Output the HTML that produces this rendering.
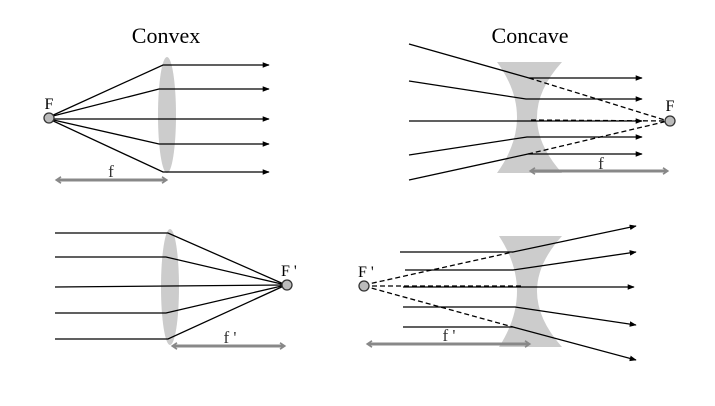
<!DOCTYPE html>
<html><head><meta charset="utf-8"><style>
html,body{margin:0;padding:0;background:#fff;}
svg{display:block;font-family:"Liberation Serif",serif;}
</style></head><body>
<svg width="715" height="406" viewBox="0 0 715 406">
<defs>
<marker id="ah" viewBox="0 0 10 10" refX="9" refY="5" markerWidth="7" markerHeight="7" orient="auto-start-reverse" markerUnits="userSpaceOnUse"><path d="M0,1 L10,5 L0,9 z" fill="#000"/></marker>
<marker id="gh" viewBox="0 0 10 10" refX="6" refY="5" markerWidth="8" markerHeight="8" orient="auto-start-reverse" markerUnits="userSpaceOnUse"><path d="M1,1 L7,5 L1,9" fill="none" stroke="#888" stroke-width="2"/></marker>
</defs>
<g stroke="#000" stroke-width="1.3" fill="none">
<g>
<ellipse cx="167" cy="115" rx="9" ry="58" fill="#ccc" stroke="none"/>
<path d="M49,117 L163,65 L269,65" marker-end="url(#ah)"/>
<path d="M49,117 L159,89 L269,89" marker-end="url(#ah)"/>
<path d="M49,119 L269,119" marker-end="url(#ah)"/>
<path d="M49,119 L159,144 L269,144" marker-end="url(#ah)"/>
<path d="M49,119 L163,172 L269,172" marker-end="url(#ah)"/>
<circle cx="49" cy="118" r="5" fill="#bbb" stroke="#333"/>
<path d="M57,180 L166,180" stroke="#888" stroke-width="3" marker-start="url(#gh)" marker-end="url(#gh)"/>
</g>
<g>
<path d="M497,62 L562,62 Q512,117 562,173 L497,173 Q537,117 497,62 z" fill="#ccc" stroke="none"/>
<path d="M409,44 L529,78 L642,78" marker-end="url(#ah)"/>
<path d="M409,81 L526,99 L642,99" marker-end="url(#ah)"/>
<path d="M409,121 L642,121" marker-end="url(#ah)"/>
<path d="M409,155 L527,137 L642,137" marker-end="url(#ah)"/>
<path d="M409,180 L528,154 L642,154" marker-end="url(#ah)"/>
<g stroke-dasharray="5,3">
<path d="M529,78 L668,121"/><path d="M531,120 L668,121"/><path d="M528,154 L668,121"/>
</g>
<circle cx="670" cy="121" r="5" fill="#bbb" stroke="#333"/>
<path d="M531,171 L667,171" stroke="#888" stroke-width="3" marker-start="url(#gh)" marker-end="url(#gh)"/>
</g>
<g>
<ellipse cx="170" cy="287" rx="9" ry="58" fill="#ccc" stroke="none"/>
<path d="M55,233 L168,233 L286,285"/>
<path d="M55,257 L166,257 L286,285"/>
<path d="M55,287 L286,285"/>
<path d="M55,313 L166,313 L286,285"/>
<path d="M55,339 L168,339 L286,285"/>
<circle cx="287" cy="285" r="5" fill="#bbb" stroke="#333"/>
<path d="M173,346 L284,346" stroke="#888" stroke-width="3" marker-start="url(#gh)" marker-end="url(#gh)"/>
</g>
<g>
<path d="M499,236 L562,236 Q512,291 562,347 L499,347 Q535,291 499,236 z" fill="#ccc" stroke="none"/>
<path d="M400,252 L513,252 L636,226" marker-end="url(#ah)"/>
<path d="M405,270 L513,270 L636,252" marker-end="url(#ah)"/>
<path d="M403,287 L634,287" marker-end="url(#ah)"/>
<path d="M403,307 L515,307 L636,325" marker-end="url(#ah)"/>
<path d="M403,327 L513,327 L636,360" marker-end="url(#ah)"/>
<g stroke-dasharray="5,3">
<path d="M364,285 L513,252"/><path d="M364,286 L523,286"/><path d="M364,286 L513,327"/>
</g>
<circle cx="364" cy="286" r="5" fill="#bbb" stroke="#333"/>
<path d="M368,344 L529,344" stroke="#888" stroke-width="3" marker-start="url(#gh)" marker-end="url(#gh)"/>
</g>
</g>
<g fill="#000">
<text x="166" y="43" font-size="22" text-anchor="middle">Convex</text>
<text x="530" y="43" font-size="22" text-anchor="middle">Concave</text>
<text x="49" y="109" font-size="16" text-anchor="middle">F</text>
<text x="111" y="177" font-size="17" text-anchor="middle" fill="#333">f</text>
<text x="670" y="111" font-size="16" text-anchor="middle">F</text>
<text x="601" y="169" font-size="17" text-anchor="middle" fill="#333">f</text>
<text x="281" y="276" font-size="16">F '</text>
<text x="230" y="343" font-size="17" text-anchor="middle" fill="#333">f '</text>
<text x="358" y="277" font-size="16">F '</text>
<text x="449" y="341" font-size="17" text-anchor="middle" fill="#333">f '</text>
</g>
</svg>
</body></html>
